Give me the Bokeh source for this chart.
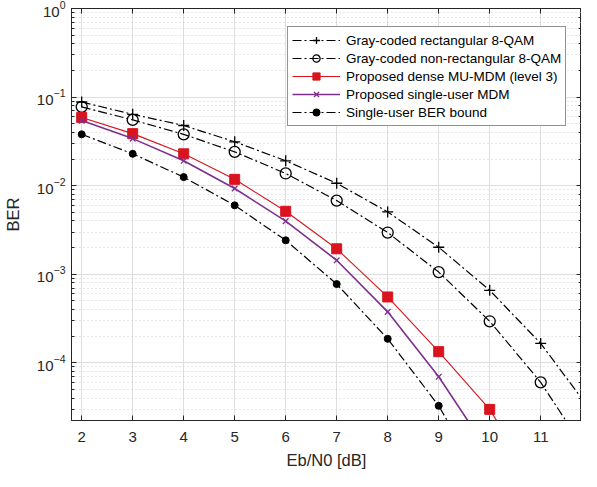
from bokeh.plotting import figure
from bokeh.models import (Legend, LegendItem, LinearAxis, LogAxis, FixedTicker, Range1d,
                          CustomJSTickFormatter)
from bokeh.embed import file_html
from bokeh.resources import INLINE

# data
x_rect = [2, 3, 4, 5, 6, 7, 8, 9, 10, 11, 12]
ber_rect = [0.088, 0.064, 0.0478, 0.0313, 0.0191, 0.01066, 0.00506, 0.00202, 6.6e-4, 1.66e-4, 2.8e-5]
x_nonrect = [2, 3, 4, 5, 6, 7, 8, 9, 10, 11, 12]
ber_nonrect = [0.0776, 0.0553, 0.038, 0.0241, 0.01375, 0.00679, 0.00296, 0.00106, 2.95e-4, 6.04e-5, 8e-6]
x_mu = [2, 3, 4, 5, 6, 7, 8, 9, 10, 11]
ber_mu = [0.059, 0.0387, 0.0229, 0.0118, 0.00514, 0.00194, 5.55e-4, 1.34e-4, 2.99e-5, 3.5e-6]
x_su = [2, 3, 4, 5, 6, 7, 8, 9, 10]
ber_su = [0.0543, 0.034, 0.0191, 0.0093, 0.00398, 0.00144, 3.77e-4, 6.97e-5, 9.5e-6]
x_bound = [2, 3, 4, 5, 6, 7, 8, 9, 10]
ber_bound = [0.038, 0.0229, 0.0125, 0.0060, 0.00242, 7.76e-4, 1.87e-4, 3.28e-5, 3.3e-6]

labels = ["Gray-coded rectangular 8-QAM",
          "Gray-coded non-rectangular 8-QAM",
          "Proposed dense MU-MDM (level 3)",
          "Proposed single-user MDM",
          "Single-user BER bound"]
x_ticks = [2, 3, 4, 5, 6, 7, 8, 9, 10, 11]

FONT = "Liberation Sans"
AX = "#262626"
RED = "#d9141e"
PURPLE = "#7e2f8e"
DASHDOT = "9 3 2 3"

p = figure(width=581, height=471, x_axis_type="linear", y_axis_type="log",
           x_range=Range1d(1.8, 11.8), y_range=Range1d(10 ** -4.65, 1.0),
           output_backend="svg", toolbar_location=None,
           min_border_left=65, min_border_right=0, min_border_top=8, min_border_bottom=46)
p.outline_line_color = AX
p.background_fill_color = "white"
p.border_fill_color = "white"

# grids
p.xgrid.ticker = FixedTicker(ticks=x_ticks)
p.xgrid.grid_line_color = "#dedede"
p.ygrid.grid_line_color = "#dedede"
p.ygrid.minor_grid_line_color = "#cfcfcf"
p.ygrid.minor_grid_line_dash = "1 3"

# axes
for ax in (p.xaxis[0], p.yaxis[0]):
    ax.axis_line_color = AX
    ax.major_tick_line_color = AX
    ax.minor_tick_line_color = AX
    ax.major_tick_in = 5
    ax.major_tick_out = 0
    ax.minor_tick_in = 3
    ax.minor_tick_out = 0
    ax.major_label_text_font = FONT
    ax.major_label_text_font_size = "15px"
    ax.major_label_text_color = AX
    ax.axis_label_text_font = FONT
    ax.axis_label_text_font_size = "16.5px"
    ax.axis_label_text_font_style = "normal"
    ax.axis_label_text_color = AX
p.xaxis.ticker = FixedTicker(ticks=x_ticks)
p.xaxis.axis_label = "Eb/N0 [dB]"
p.yaxis.axis_label = "BER"
p.xaxis.major_label_standoff = 11
p.xaxis.axis_label_standoff = 6
p.yaxis.major_label_standoff = 6
p.yaxis.axis_label_standoff = 12

top = LinearAxis(ticker=FixedTicker(ticks=x_ticks), formatter=CustomJSTickFormatter(code="return ''"),
                 major_tick_in=5, major_tick_out=0, minor_tick_in=0, minor_tick_out=0,
                 axis_line_color=AX, major_tick_line_color=AX, major_label_standoff=0)
p.add_layout(top, "above")
right = LogAxis(formatter=CustomJSTickFormatter(code="return ''"), major_tick_in=5, major_tick_out=0,
                minor_tick_in=3, minor_tick_out=0, axis_line_color=AX,
                major_tick_line_color=AX, minor_tick_line_color=AX, major_label_standoff=0)
p.add_layout(right, "right")

items = []
# rectangular
l1 = p.line(x_rect, ber_rect, line_color="black", line_width=1.2, line_dash=DASHDOT)
m1 = p.scatter(x_rect, ber_rect, marker="cross", size=11, line_color="black", line_width=1.3)
items.append(LegendItem(label=labels[0], renderers=[l1, m1]))
# non-rectangular
l2 = p.line(x_nonrect, ber_nonrect, line_color="black", line_width=1.2, line_dash=DASHDOT)
m2 = p.scatter(x_nonrect, ber_nonrect, marker="circle", size=11, line_color="black",
               fill_color=None, line_width=1.3)
items.append(LegendItem(label=labels[1], renderers=[l2, m2]))
# MU-MDM
l3 = p.line(x_mu, ber_mu, line_color=RED, line_width=1.1)
m3 = p.scatter(x_mu, ber_mu, marker="square", size=10, line_color=RED, fill_color=RED)
items.append(LegendItem(label=labels[2], renderers=[l3, m3]))
# single-user MDM
l4 = p.line(x_su, ber_su, line_color=PURPLE, line_width=1.6)
m4 = p.scatter(x_su, ber_su, marker="x", size=8, line_color=PURPLE, line_width=1.3)
items.append(LegendItem(label=labels[3], renderers=[l4, m4]))
# bound
l5 = p.line(x_bound, ber_bound, line_color="black", line_width=1.2, line_dash=DASHDOT)
m5 = p.scatter(x_bound, ber_bound, marker="circle", size=7, line_color="black", fill_color="black")
items.append(LegendItem(label=labels[4], renderers=[l5, m5]))

legend = Legend(items=items, location=(216, 294), orientation="vertical",
                glyph_width=48, glyph_height=18, label_height=18, spacing=0,
                padding=4, margin=0, label_standoff=6,
                label_text_font=FONT, label_text_font_size="13.5px", label_text_color="black",
                border_line_color=AX, border_line_width=1, background_fill_color="white",
                background_fill_alpha=1.0)
p.add_layout(legend, "center")

open("out.html", "w").write(file_html(p, INLINE))
